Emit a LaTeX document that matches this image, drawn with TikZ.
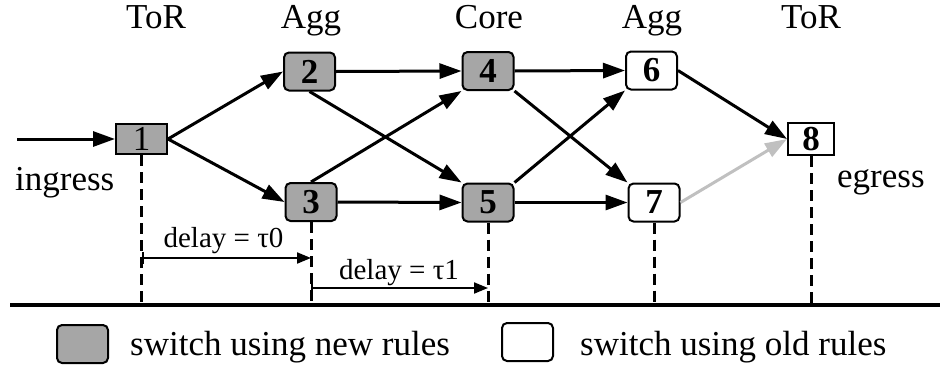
\documentclass[tikz,border=0pt]{standalone}
\usepackage{fontspec}
\setmainfont{Liberation Serif}
\usetikzlibrary{arrows.meta}
\definecolor{newrule}{RGB}{166,166,166}
\definecolor{pathgray}{RGB}{192,192,192}
\begin{document}
\begin{tikzpicture}[x=1pt,y=-1pt,
  font=\fontsize{35}{40}\selectfont,
  sw/.style={draw, line width=2pt, inner sep=0pt, minimum width=51pt,
    minimum height=38pt, rounded corners=5pt,
    font=\fontsize{35}{40}\selectfont\bfseries},
  newsw/.style={sw, fill=newrule},
  oldsw/.style={sw, fill=white},
  tor/.style={sharp corners},
  link/.style={line width=3pt, -{Triangle[length=22pt,width=15pt]}},
  oldlink/.style={link, draw=pathgray, -{Triangle[length=22pt,width=15pt,fill=pathgray]}},
  drop/.style={line width=3pt, dash pattern=on 11pt off 6pt},
  delay/.style={line width=2pt, {Bar[width=12pt]}-{Triangle[length=14pt,width=11pt]}},
  label/.style={anchor=base, inner sep=0pt},
  txt/.style={anchor=base west, inner sep=0pt}
]
\useasboundingbox (0,0) rectangle (940,370);

% layer titles
\node[label] (tl1) at (156,28) {ToR};
\node[label] (tl2) at (311,28) {Agg};
\node[label] (tl3) at (489,28) {Core};
\node[label] (tl4) at (652,28) {Agg};
\node[label] (tl5) at (811,28) {ToR};

% switches
\node[newsw, tor, minimum height=30pt, font=\fontsize{35}{40}\selectfont] (s1) at (141.5,139) {1};
\node[newsw] (s2) at (309.5,71.5) {2};
\node[newsw] (s3) at (311,202) {3};
\node[newsw] (s4) at (488,71) {4};
\node[newsw] (s5) at (488,202.5) {5};
\node[oldsw] (s6) at (651.5,70.5) {6};
\node[oldsw] (s7) at (654,202.5) {7};
\node[oldsw, tor, minimum width=46pt, minimum height=32pt] (s8) at (811,139) {8};

% ingress / egress
\coordinate (in) at (17,139);
\node[txt] (ing) at (15,190) {ingress};
\node[txt] (egr) at (837,187) {egress};

% links
\draw[link] (in) -- (s1.west);
\draw[link] (s1.east) -- (s2.west);
\draw[link] (s1.east) -- (s3.west);
\draw[link] (s2.east) -- (s4.west);
\draw[link] (s2.south) -- (s5.north west);
\draw[link] (s3.north) -- (s4.south west);
\draw[link] (s3.east) -- (s5.west);
\draw[link] (s4.east) -- (s6.west);
\draw[link] (s4.south east) -- (s7.north west);
\draw[link] (s5.north east) -- (s6.south west);
\draw[link] (s5.east) -- (s7.west);
\draw[link] (s6.east) -- (s8.west);
\draw[oldlink] (s7.east) -- (s8.west);

% time axis
\coordinate (gl) at (10,305);
\coordinate (gr) at (940,305);
\foreach \s in {s1,s3,s5,s7,s8}
  \draw[drop] (\s.south) -- (\s.south |- gl);
\draw[line width=4pt] (gl) -- (gr);

% delays
\coordinate (d0) at (0,258);
\coordinate (d1) at (0,288);
\draw[delay] (s1.south |- d0) -- (s3.south |- d0);
\draw[delay] (s3.south |- d1) -- (s5.south |- d1);
\node[label, font=\fontsize{29}{34}\selectfont] (t0) at (223.5,247) {delay = τ0};
\node[label, font=\fontsize{29}{34}\selectfont] (t1) at (399,279) {delay = τ1};

% key
\node[newsw] (knew) at (82.5,344) {};
\node[txt] (knewt) at (130,355) {switch using new rules};
\node[oldsw] (kold) at (527.5,342) {};
\node[txt] (koldt) at (580,355) {switch using old rules};
\end{tikzpicture}
\end{document}
